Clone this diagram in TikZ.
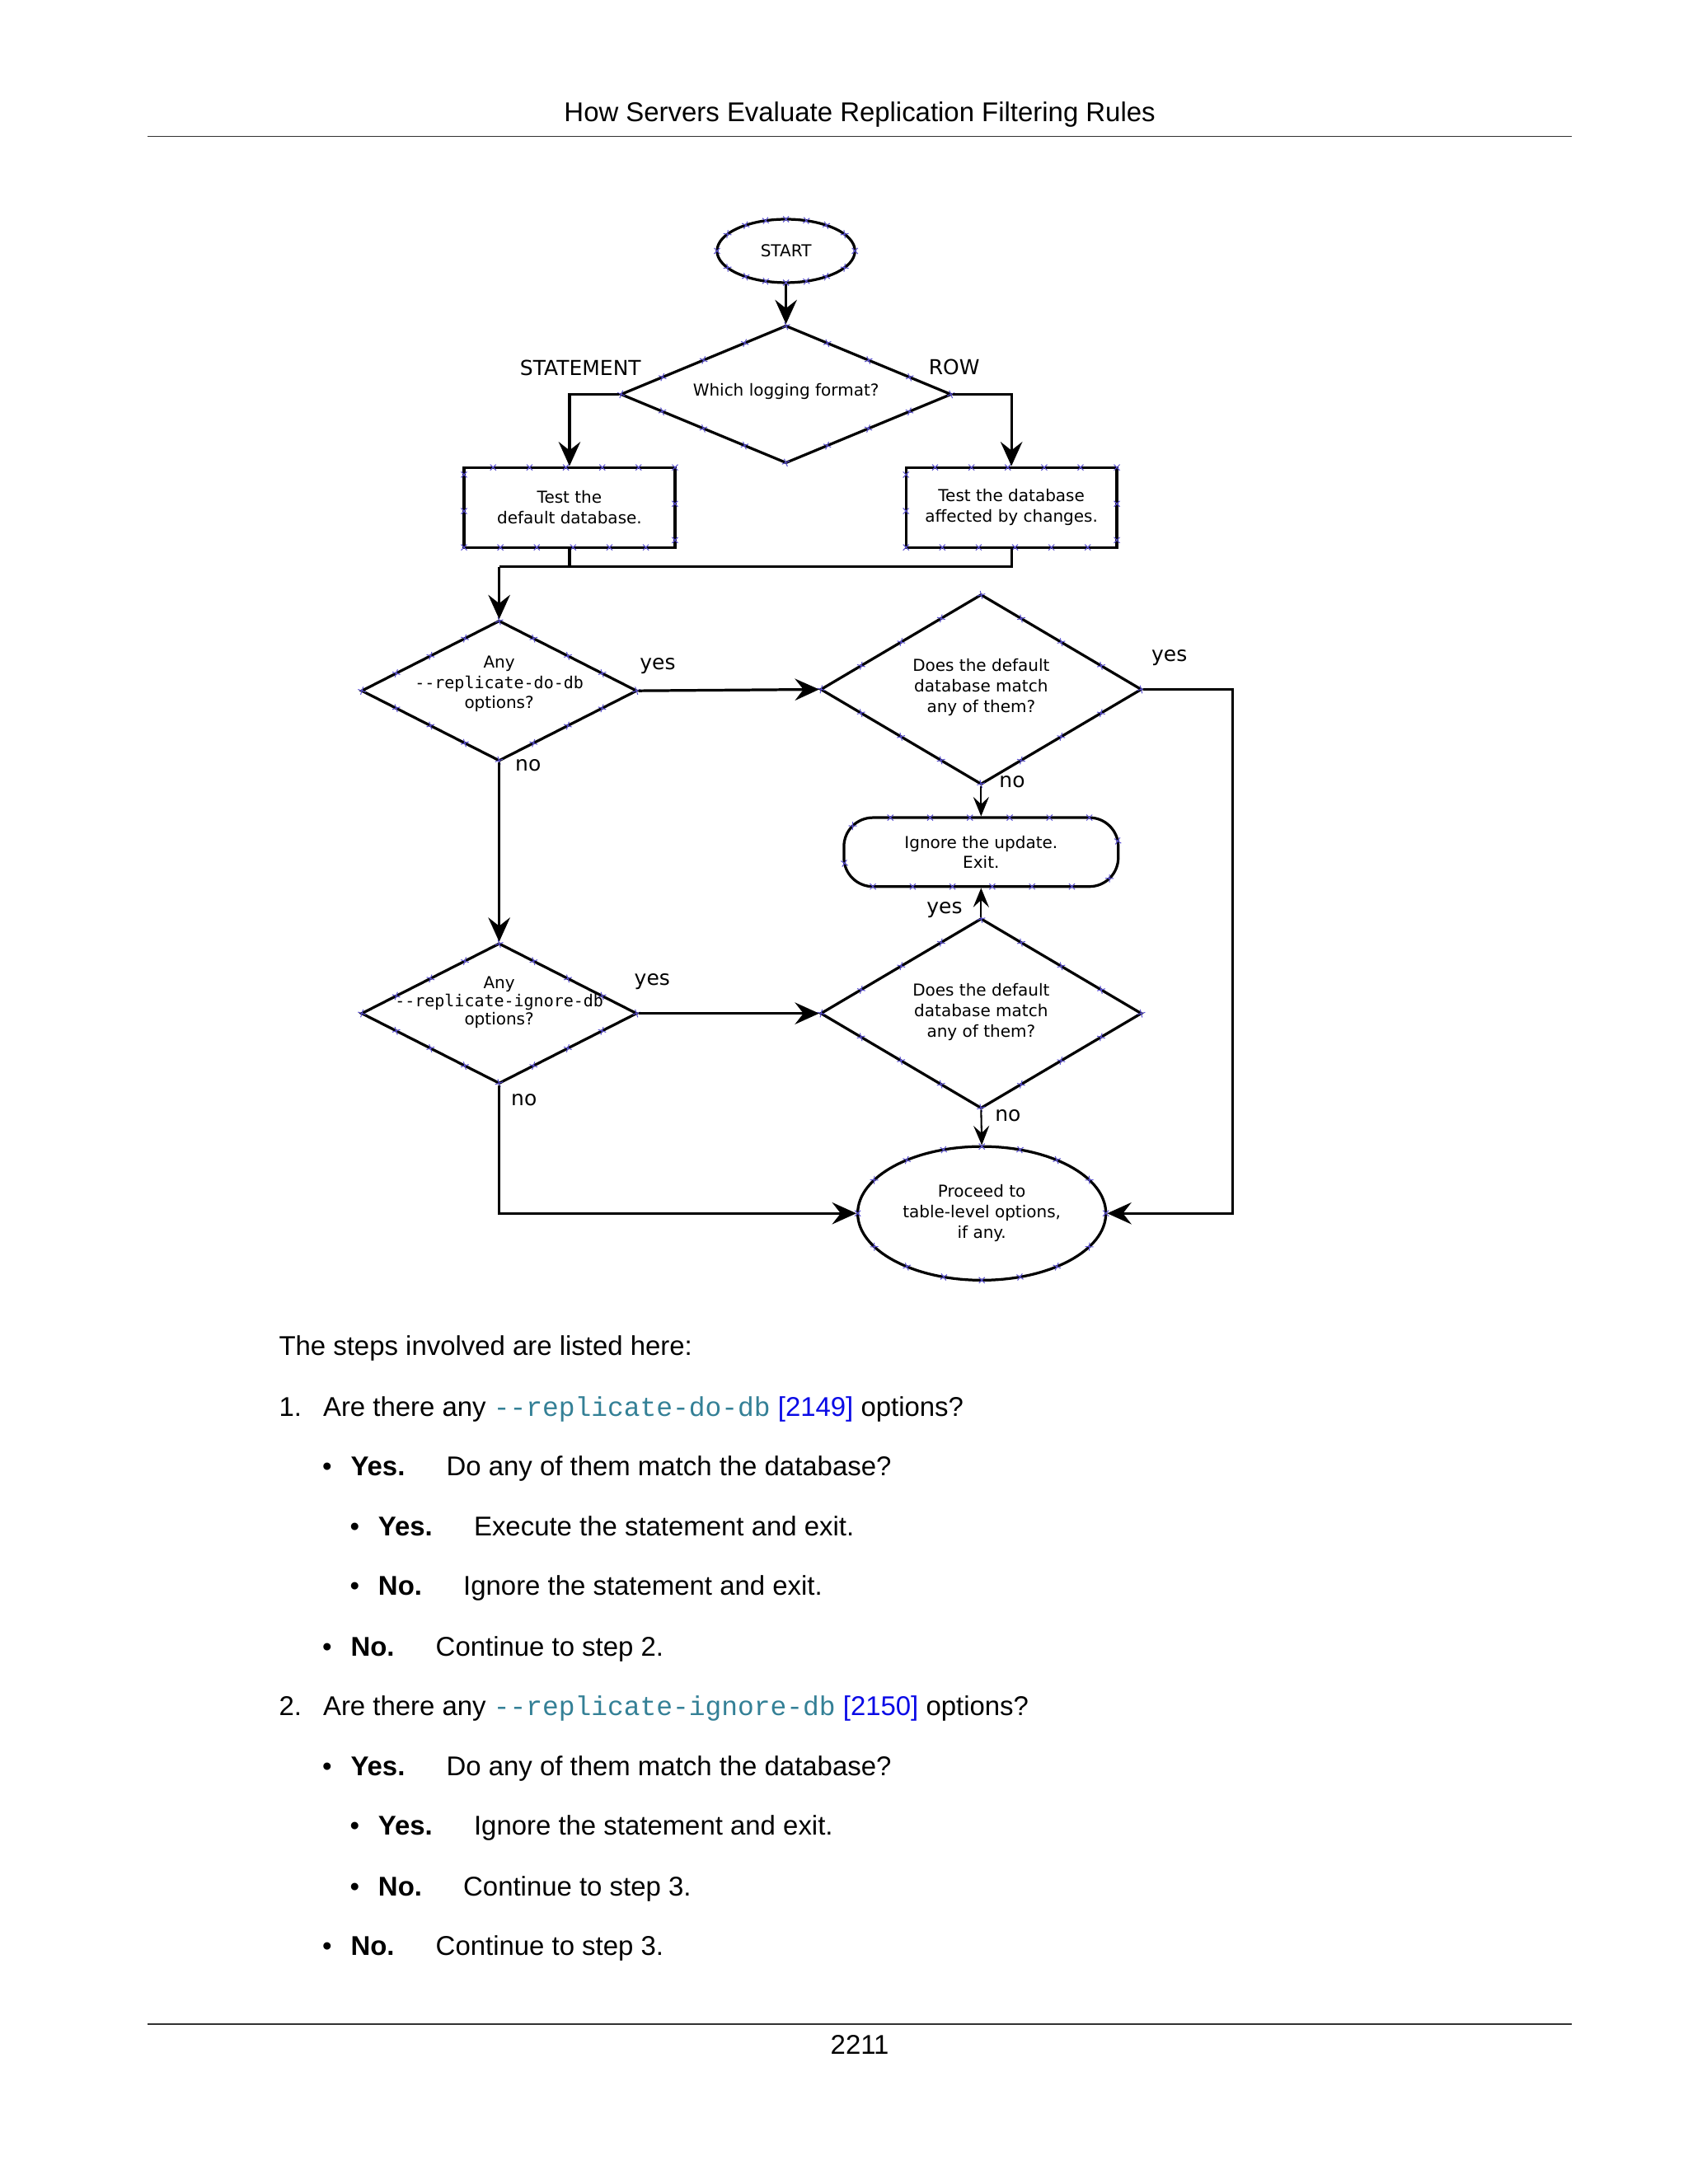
\documentclass[tikz,border=0pt]{standalone}
\usepackage{fontspec}
\setmainfont{Liberation Sans}
\setmonofont{Liberation Mono}
\newfontfamily\diafont{DejaVu Sans}
\newfontfamily\diamono{DejaVu Sans Mono}
\usetikzlibrary{shapes.geometric, arrows.meta, decorations.markings}
\definecolor{optteal}{RGB}{52,128,150}
\definecolor{linkblue}{RGB}{10,10,230}
\definecolor{cpblue}{RGB}{90,80,210}
\definecolor{rulegray}{RGB}{50,50,50}
\newcommand{\dashdash}{\mbox{-}\mbox{-}}
\tikzstyle{cpoints} = [postaction={decorate, decoration={markings, mark=between positions 0 and 0.99 step 0.0625 with {\draw[cpblue, line width=0.35pt, -] (-1.2pt,-1.2pt) -- (1.2pt,1.2pt) (-1.2pt,1.2pt) -- (1.2pt,-1.2pt);}}}]
\tikzstyle{diatext} = [font=\diafont\fontsize{6.8}{8.5}\selectfont]
\tikzstyle{startstop} = [ellipse, draw=black, line width=1.1pt, inner sep=0pt, align=center, diatext, cpoints]
\tikzstyle{process} = [rectangle, draw=black, line width=1.1pt, minimum width=3.06cm, minimum height=1.16cm, inner sep=0pt, align=center, diatext, cpoints]
\tikzstyle{exitbox} = [rectangle, rounded corners=0.42cm, draw=black, line width=1.1pt, minimum width=3.98cm, minimum height=1cm, inner sep=0pt, align=center, diatext, cpoints]
\tikzstyle{decision} = [diamond, draw=black, line width=1.1pt, inner sep=0pt, cpoints]
\tikzstyle{decisiontext} = [align=center, inner sep=0pt, diatext]
\tikzstyle{branch} = [inner sep=0pt, font=\diafont\fontsize{8.5}{10}\selectfont]
\tikzstyle{arrow} = [line width=1.1pt, -{Stealth[length=10pt, width=9pt, inset=3.5pt]}]
\tikzstyle{thinarrow} = [line width=0.7pt, -{Stealth[length=8pt, width=6.5pt, inset=3pt]}]
\tikzstyle{line} = [line width=1.1pt]
\tikzstyle{bodytext} = [anchor=base west, inner sep=0pt, font=\fontsize{11.2}{13}\selectfont]
\tikzstyle{pagerule} = [line width=0.6pt, draw=rulegray]

\begin{document}
\begin{tikzpicture}[x=0.02cm, y=-0.02cm]
    \fill [white] (0,0) rectangle (1224,1584);
    \useasboundingbox (0,0) rectangle (1224,1584);

    % page head and foot
    \node (title) [anchor=base, inner sep=0pt, font=\fontsize{11.2}{13}\selectfont] at (623.5,88) {How Servers Evaluate Replication Filtering Rules};
    \draw [pagerule] (107,99) -- (1140,99);
    \draw [pagerule] (107,1468) -- (1140,1468);
    \node (pagenum) [anchor=base, inner sep=0pt, font=\fontsize{11.2}{13}\selectfont] at (623.5,1490) {2211};

    % flowchart
    \node (start) [startstop, minimum width=2cm, minimum height=0.92cm] at (570,182) {START};
    \node (format) [decision, minimum width=4.8cm, minimum height=2cm, label={[decisiontext, yshift=0.04cm]center:Which logging format?}] at (570,286) {};
    \node (testdef) [process] at (413,368) {Test the\\default database.};
    \node (testrow) [process] at (733.5,368) {Test the database\\affected by changes.};
    \coordinate (join) at (362,411);
    \node (anydo) [decision, minimum width=4cm, minimum height=2.04cm, label={[decisiontext, yshift=0.1cm]center:Any\\{\diamono\dashdash replicate-do-db}\\options?}] at (362,501) {};
    \node (matchdo) [decision, minimum width=4.66cm, minimum height=2.76cm, label={[decisiontext, yshift=0.03cm]center:Does the default\\database match\\any of them?}] at (711.5,500) {};
    \coordinate (rightrail) at (894,500);
    \node (ignore) [exitbox] at (711.5,618) {Ignore the update.\\Exit.};
    \node (anyignore) [decision, minimum width=4cm, minimum height=2.04cm, label={[decisiontext, yshift=0.16cm, font=\diafont\fontsize{6.8}{7.6}\selectfont]center:Any\\{\diamono\dashdash replicate-ignore-db}\\options?}] at (362,735) {};
    \node (matchignore) [decision, minimum width=4.66cm, minimum height=2.76cm, label={[decisiontext, yshift=0.02cm]center:Does the default\\database match\\any of them?}] at (711.5,735) {};
    \node (proceed) [startstop, minimum width=3.6cm, minimum height=1.94cm] at (712,880) {Proceed to\\table-level options,\\if any.};

    \node (stmt) [branch] at (421,267) {STATEMENT};
    \node (row) [branch] at (692,266) {ROW};
    \node (doyes) [branch] at (477,483) {yes};
    \node (dono) [branch] at (383,555) {no};
    \node (matchdoyes) [branch] at (848,477) {yes};
    \node (matchdono) [branch] at (734,567) {no};
    \node (ignyes) [branch] at (473,712) {yes};
    \node (ignno) [branch] at (380,798) {no};
    \node (matchignyes) [branch] at (685,660) {yes};
    \node (matchignno) [branch] at (731,809) {no};

    \draw [arrow] (start) -- (format);
    \draw [arrow] (format.west) -| (testdef.north);
    \draw [arrow] (format.east) -| (testrow.north);
    \draw [line] (testdef.south) |- (join);
    \draw [line] (testrow.south) |- (join);
    \draw [arrow] (join) -- (anydo.north);
    \draw [arrow] (anydo.east) -- (matchdo.west);
    \draw [arrow] (matchdo.east) -- (rightrail) |- (proceed.east);
    \draw [thinarrow] (matchdo.south) -- (ignore.north);
    \draw [arrow] (anydo.south) -- (anyignore.north);
    \draw [arrow] (anyignore.east) -- (matchignore.west);
    \draw [thinarrow] (matchignore.north) -- (ignore.south);
    \draw [thinarrow] (matchignore.south) -- (proceed.north);
    \draw [arrow] (anyignore.south) |- (proceed.west);

    % steps
    \node (intro) [bodytext] at (202,983) {The steps involved are listed here:};
    \node (stepone) [bodytext] at (202,1027) {1.};
    \node (qdo) [bodytext] at (234,1027) {Are there any \textcolor{optteal}{\ttfamily\dashdash replicate-do-db} \textcolor{linkblue}{[2149]} options?};
    \node (doyesitem) [bodytext] at (233.5,1070) {\makebox[0.41cm][l]{\textbullet}\textbf{Yes.}\hspace{0.6cm}Do any of them match the database?};
    \node (domatchyes) [bodytext] at (253.5,1114) {\makebox[0.41cm][l]{\textbullet}\textbf{Yes.}\hspace{0.6cm}Execute the statement and exit.};
    \node (domatchno) [bodytext] at (253.5,1157) {\makebox[0.41cm][l]{\textbullet}\textbf{No.}\hspace{0.6cm}Ignore the statement and exit.};
    \node (donoitem) [bodytext] at (233.5,1201) {\makebox[0.41cm][l]{\textbullet}\textbf{No.}\hspace{0.6cm}Continue to step 2.};
    \node (steptwo) [bodytext] at (202,1244) {2.};
    \node (qignore) [bodytext] at (234,1244) {Are there any \textcolor{optteal}{\ttfamily\dashdash replicate-ignore-db} \textcolor{linkblue}{[2150]} options?};
    \node (ignyesitem) [bodytext] at (233.5,1288) {\makebox[0.41cm][l]{\textbullet}\textbf{Yes.}\hspace{0.6cm}Do any of them match the database?};
    \node (ignmatchyes) [bodytext] at (253.5,1331) {\makebox[0.41cm][l]{\textbullet}\textbf{Yes.}\hspace{0.6cm}Ignore the statement and exit.};
    \node (ignmatchno) [bodytext] at (253.5,1375) {\makebox[0.41cm][l]{\textbullet}\textbf{No.}\hspace{0.6cm}Continue to step 3.};
    \node (ignnoitem) [bodytext] at (233.5,1418) {\makebox[0.41cm][l]{\textbullet}\textbf{No.}\hspace{0.6cm}Continue to step 3.};
\end{tikzpicture}
\end{document}
